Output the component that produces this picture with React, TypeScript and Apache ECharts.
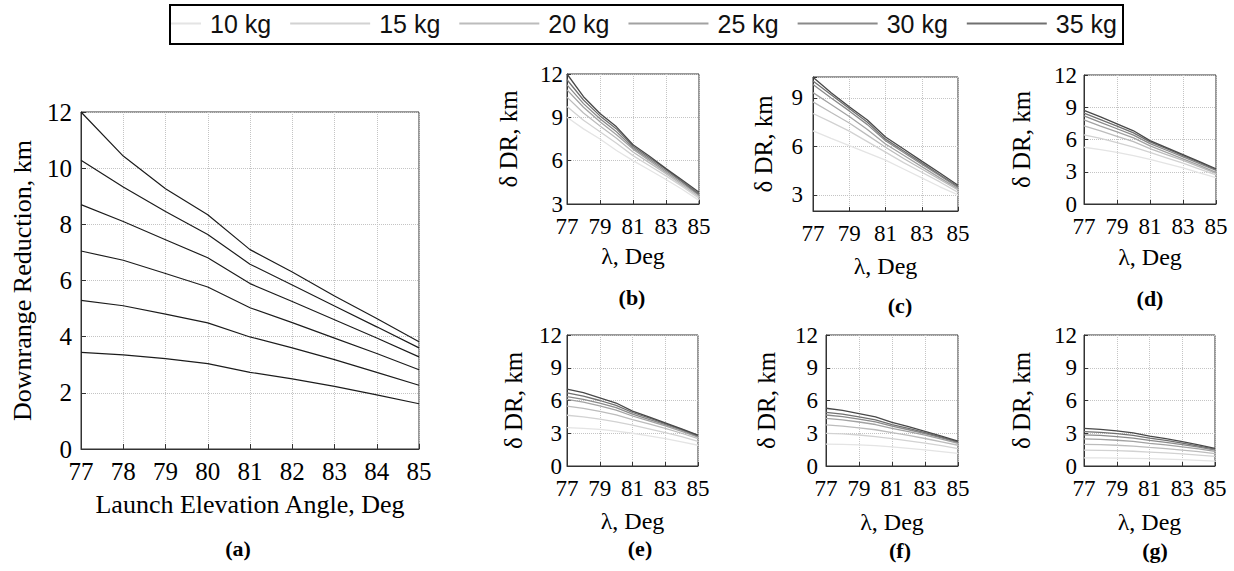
import React, { useEffect, useRef } from 'react';
import * as echarts from 'echarts';

// ---------- data ----------
const ANGLES = ['77', '78', '79', '80', '81', '82', '83', '84', '85'];
const MASSES = ['10 kg', '15 kg', '20 kg', '25 kg', '30 kg', '35 kg', '40 kg'];
const LEGEND_MASSES = ['10 kg', '15 kg', '20 kg', '25 kg', '30 kg', '35 kg'];
const Y_TICKS_SMALL = [0, 3, 6, 9, 12];

// each panel: one row per mass (10 kg ... 40 kg)
const PANEL_B = [
  [9.0, 8.2, 7.5, 6.7, 6.0, 5.35, 4.7, 4.0, 3.25],
  [9.75, 8.8, 8.0, 7.2, 6.35, 5.65, 4.95, 4.2, 3.4],
  [10.4, 9.3, 8.4, 7.55, 6.6, 5.85, 5.1, 4.3, 3.5],
  [10.9, 9.7, 8.7, 7.8, 6.8, 6.0, 5.2, 4.4, 3.6],
  [11.25, 9.95, 8.9, 8.0, 6.9, 6.1, 5.3, 4.5, 3.65],
  [11.6, 10.2, 9.1, 8.2, 7.0, 6.2, 5.4, 4.55, 3.7],
  [12.0, 10.43, 9.27, 8.34, 7.1, 6.3, 5.45, 4.65, 3.82],
];
const PANEL_C = [
  [6.96, 6.5, 6.05, 5.6, 5.15, 4.6, 4.05, 3.5, 3.0],
  [8.04, 7.5, 6.95, 6.3, 5.65, 5.0, 4.4, 3.8, 3.15],
  [8.76, 8.1, 7.45, 6.7, 5.95, 5.25, 4.6, 3.95, 3.3],
  [9.33, 8.6, 7.85, 7.05, 6.15, 5.45, 4.75, 4.05, 3.38],
  [9.84, 9.0, 8.2, 7.35, 6.35, 5.62, 4.9, 4.18, 3.46],
  [10.05, 9.2, 8.35, 7.5, 6.45, 5.72, 4.98, 4.25, 3.52],
  [10.28, 9.33, 8.46, 7.64, 6.58, 5.84, 5.09, 4.35, 3.6],
];
const PANEL_D = [
  [5.28, 5.05, 4.8, 4.5, 4.15, 3.75, 3.35, 2.9, 2.45],
  [6.43, 6.1, 5.7, 5.3, 4.8, 4.3, 3.8, 3.25, 2.7],
  [7.26, 6.8, 6.3, 5.8, 5.15, 4.6, 4.05, 3.45, 2.85],
  [7.82, 7.25, 6.7, 6.15, 5.4, 4.8, 4.2, 3.6, 2.95],
  [8.19, 7.6, 7.0, 6.4, 5.62, 5.0, 4.38, 3.76, 3.12],
  [8.45, 7.85, 7.25, 6.62, 5.78, 5.15, 4.5, 3.87, 3.2],
  [8.7, 8.1, 7.45, 6.81, 5.89, 5.25, 4.6, 3.95, 3.28],
];
const PANEL_E = [
  [3.52, 3.45, 3.35, 3.2, 3.0, 2.75, 2.5, 2.2, 1.9],
  [4.65, 4.5, 4.3, 4.05, 3.75, 3.4, 3.05, 2.7, 2.25],
  [5.48, 5.28, 5.0, 4.68, 4.25, 3.85, 3.45, 3.0, 2.5],
  [6.1, 5.85, 5.5, 5.12, 4.58, 4.13, 3.68, 3.18, 2.65],
  [6.35, 6.1, 5.75, 5.35, 4.75, 4.28, 3.8, 3.28, 2.72],
  [6.7, 6.4, 6.0, 5.55, 4.9, 4.4, 3.88, 3.35, 2.78],
  [7.05, 6.72, 6.25, 5.77, 5.03, 4.5, 3.95, 3.4, 2.82],
];
const PANEL_F = [
  [2.01, 1.99, 1.94, 1.86, 1.75, 1.62, 1.47, 1.31, 1.15],
  [2.99, 2.94, 2.84, 2.7, 2.5, 2.31, 2.1, 1.86, 1.6],
  [3.76, 3.66, 3.5, 3.32, 3.05, 2.8, 2.52, 2.22, 1.9],
  [4.37, 4.23, 4.03, 3.8, 3.45, 3.15, 2.82, 2.46, 2.08],
  [4.67, 4.52, 4.3, 4.04, 3.65, 3.32, 2.96, 2.57, 2.16],
  [4.92, 4.75, 4.5, 4.22, 3.8, 3.45, 3.06, 2.65, 2.22],
  [5.29, 5.1, 4.8, 4.49, 3.99, 3.6, 3.18, 2.73, 2.27],
];
const PANEL_G = [
  [0.75, 0.74, 0.72, 0.7, 0.67, 0.63, 0.58, 0.52, 0.45],
  [1.45, 1.43, 1.4, 1.35, 1.28, 1.2, 1.11, 1.0, 0.88],
  [1.98, 1.95, 1.9, 1.82, 1.7, 1.59, 1.46, 1.31, 1.14],
  [2.48, 2.44, 2.36, 2.25, 2.08, 1.93, 1.76, 1.56, 1.34],
  [2.85, 2.8, 2.7, 2.56, 2.35, 2.17, 1.96, 1.72, 1.46],
  [3.15, 3.08, 2.96, 2.8, 2.55, 2.34, 2.1, 1.83, 1.54],
  [3.44, 3.35, 3.22, 3.04, 2.73, 2.5, 2.23, 1.93, 1.61],
];
// panel (a): the 40 kg curve of cases (b)...(g)
const PANEL_A_CASES = ['(b)', '(c)', '(d)', '(e)', '(f)', '(g)'];

// ---------- styles / layout ----------
const LINE_COLORS = ['#e4e4e4', '#d2d2d2', '#bcbcbc', '#a2a2a2', '#8a8a8a', '#707070', '#484848'];
const SERIF = 'Liberation Serif';
const SANS = 'Liberation Sans';

const SMALL = [
  { data: PANEL_B, grid: { left: 567, top: 74, width: 132, height: 130 }, min: 3, max: 12, yGap: 46, xGap: 40, yMargin: 4, cap: '(b)', capX: 632, capY: 297 },
  { data: PANEL_C, grid: { left: 813, top: 77, width: 145, height: 134 }, min: 2, max: 10.3, yGap: 37, xGap: 43, yMargin: 10, cap: '(c)', capX: 900, capY: 305 },
  { data: PANEL_D, grid: { left: 1084, top: 75, width: 132, height: 129 }, min: 0, max: 12, yGap: 50, xGap: 41, yMargin: 7, cap: '(d)', capX: 1150, capY: 298 },
  { data: PANEL_E, grid: { left: 567, top: 335, width: 131, height: 131 }, min: 0, max: 12, yGap: 41, xGap: 43, yMargin: 5, cap: '(e)', capX: 640, capY: 548 },
  { data: PANEL_F, grid: { left: 826, top: 335, width: 132, height: 131 }, min: 0, max: 12, yGap: 47, xGap: 44, yMargin: 8, cap: '(f)', capX: 900, capY: 550 },
  { data: PANEL_G, grid: { left: 1084, top: 335, width: 131, height: 131 }, min: 0, max: 12, yGap: 50, xGap: 44, yMargin: 7, cap: '(g)', capX: 1155, capY: 550 },
];

export default function App() {
  const ref = useRef<HTMLDivElement>(null);

  useEffect(() => {
    if (!ref.current) return;
    const chart = echarts.init(ref.current, null, { renderer: 'svg' });

    const splitLine = { show: true, lineStyle: { color: '#c4c4c4', type: 'dotted' as const, width: 1 } };
    const axisLine = { show: true, lineStyle: { color: '#333', width: 1 } };

    const grids: any[] = [{ left: 81, top: 112, width: 338, height: 337, show: true, borderColor: '#333', borderWidth: 1 }];
    const xAxes: any[] = [
      {
        gridIndex: 0, type: 'category', data: ANGLES, boundaryGap: false,
        axisLine, splitLine, axisTick: { inside: true, length: 5, lineStyle: { color: '#333' } },
        axisLabel: { interval: 0, fontFamily: SERIF, fontSize: 25, color: '#000', margin: 10 },
        name: 'Launch Elevation Angle, Deg', nameLocation: 'middle', nameGap: 42,
        nameTextStyle: { fontFamily: SERIF, fontSize: 26, color: '#000' },
      },
    ];
    const yAxes: any[] = [
      {
        gridIndex: 0, type: 'value', min: 0, max: 12, interval: 2,
        axisLine, splitLine, axisTick: { show: true, inside: true, length: 5, lineStyle: { color: '#333' } },
        axisLabel: { fontFamily: SERIF, fontSize: 25, color: '#000', margin: 9 },
        name: 'Downrange Reduction, km', nameLocation: 'middle', nameGap: 46,
        nameTextStyle: { fontFamily: SERIF, fontSize: 26, color: '#000' },
      },
    ];
    const series: any[] = [];
    const smallPanelLast = SMALL.map((p) => p.data[p.data.length - 1]);
    smallPanelLast.forEach((vals, i) => {
      series.push({
        name: 'Case ' + PANEL_A_CASES[i], type: 'line', xAxisIndex: 0, yAxisIndex: 0,
        data: vals, symbol: 'none', lineStyle: { color: '#1c1c1c', width: 1.2 }, itemStyle: { color: '#1c1c1c' },
      });
    });

    const graphics: any[] = [];

    SMALL.forEach((p, k) => {
      const gi = k + 1;
      grids.push({ ...p.grid, show: true, borderColor: '#333', borderWidth: 1 });
      xAxes.push({
        gridIndex: gi, type: 'category', data: ANGLES, boundaryGap: false,
        axisLine, splitLine: { ...splitLine, interval: 1 },
        axisTick: { inside: true, length: 4, interval: 1, lineStyle: { color: '#333' } },
        axisLabel: { interval: 1, fontFamily: SERIF, fontSize: 23, color: '#000', margin: 11 },
        name: 'λ, Deg', nameLocation: 'middle', nameGap: p.xGap,
        nameTextStyle: { fontFamily: SERIF, fontSize: 24, color: '#000' },
      });
      const yAxis: any = {
        gridIndex: gi, type: 'value', min: p.min, max: p.max,
        axisLine, splitLine, axisTick: { show: true, inside: true, length: 4, lineStyle: { color: '#333' } },
        axisLabel: {
          fontFamily: SERIF, fontSize: 23, color: '#000', margin: p.yMargin,
          formatter: (v: number) => (Y_TICKS_SMALL.includes(v) ? String(v) : ''),
        },
        name: 'δ DR, km', nameLocation: 'middle', nameGap: p.yGap,
        nameTextStyle: { fontFamily: SERIF, fontSize: 25, color: '#000' },
      };
      if (p.min % 3 === 0) {
        yAxis.interval = 3;
      } else {
        yAxis.minInterval = 3;
        yAxis.maxInterval = 3;
      }
      yAxes.push(yAxis);
      p.data.forEach((vals, m) => {
        series.push({
          name: MASSES[m], type: 'line', xAxisIndex: gi, yAxisIndex: gi,
          data: vals, symbol: 'none',
          lineStyle: { color: LINE_COLORS[m], width: 1.3 }, itemStyle: { color: LINE_COLORS[m] },
          z: 2 + m,
        });
      });
      graphics.push({
        type: 'text', x: p.capX, y: p.capY,
        style: { text: p.cap, font: `bold 22px "${SERIF}"`, fill: '#000', align: 'center', verticalAlign: 'middle' },
      });
    });

    graphics.push({
      type: 'text', x: 238, y: 548,
      style: { text: '(a)', font: `bold 22px "${SERIF}"`, fill: '#000', align: 'center', verticalAlign: 'middle' },
    });
    // mask the legend overflow left of the frame, then the frame
    graphics.push({ type: 'rect', z: 100, shape: { x: 0, y: 0, width: 169, height: 50 }, style: { fill: '#fff' } });
    graphics.push({ type: 'rect', z: 101, shape: { x: 170, y: 5, width: 953, height: 39 }, style: { fill: 'none', stroke: '#000', lineWidth: 2 } });

    chart.setOption({
      animation: false,
      backgroundColor: '#fff',
      textStyle: { fontFamily: SERIF },
      legend: {
        data: LEGEND_MASSES,
        left: 121, top: 11,
        icon: 'rect',
        itemWidth: 80, itemHeight: 2, itemGap: 19, padding: 0,
        textStyle: { fontFamily: SANS, fontSize: 25, color: '#111', padding: [0, 0, 0, 4] },
        selectedMode: false,
      },
      grid: grids,
      xAxis: xAxes,
      yAxis: yAxes,
      series,
      graphic: graphics,
    });

    return () => chart.dispose();
  }, []);

  return <div ref={ref} style={{ position: 'absolute', left: 0, top: 0, width: 1234, height: 571 }} />;
}
